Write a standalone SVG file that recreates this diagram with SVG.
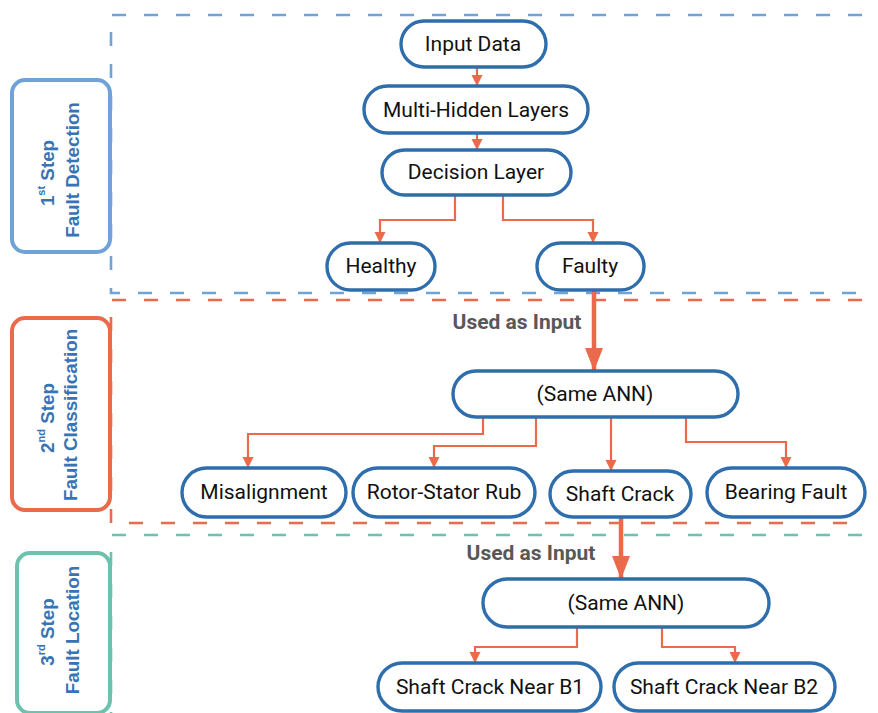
<svg xmlns="http://www.w3.org/2000/svg" width="878" height="713" viewBox="0 0 878 713">
<defs>
<style>
.node rect{fill:#fff;stroke:#2f6eac;stroke-width:3.4}
.node text{font-family:Roboto,"Liberation Sans",sans-serif;font-size:21px;fill:#111;text-anchor:middle;dominant-baseline:central}
.step rect{fill:#fff;stroke-width:4}
.step text{font-family:"Liberation Sans",Arial,sans-serif;font-weight:bold;font-size:18.8px;fill:#3874b5;text-anchor:middle;dominant-baseline:central}
.sup{font-size:11px}
.dash{fill:none;stroke-width:2.6;stroke-dasharray:14 18}
.conn{fill:none;stroke:#ea6a4b;stroke-width:2.2}
.thick{fill:none;stroke:#ea6a4b;stroke-width:4.5}
.lbl{font-family:Roboto,"Liberation Sans",sans-serif;font-weight:bold;font-size:21px;fill:#585858;text-anchor:middle;dominant-baseline:central}
</style>
<marker id="ah" markerUnits="userSpaceOnUse" markerWidth="12" markerHeight="12" viewBox="0 0 12 12" refX="11" refY="6" orient="auto">
<path d="M0,0.5 L11,6 L0,11.5 Z" fill="#ea6a4b"/>
</marker>
<marker id="ahb" markerUnits="userSpaceOnUse" markerWidth="24" markerHeight="20" viewBox="0 0 24 20" refX="23" refY="10" orient="auto">
<path d="M0,1 L23,10 L0,19 Z" fill="#ea6a4b"/>
</marker>
</defs>

<g id="regions">
<path class="dash" stroke="#6fa3d8" d="M862,15 H111 V293 H862"/>
<path class="dash" stroke="#ea6a4b" d="M862,300 H111 V523 H862"/>
<path class="dash" stroke="#6cc2ae" d="M862,535 H111 V713"/>
</g>

<g id="step1" class="step">
<rect x="12" y="80" width="98" height="172" rx="13" stroke="#6fa3d8"/>
<text transform="translate(47,173) rotate(-90)">1<tspan class="sup" dy="-6">st</tspan><tspan dy="6"> Step</tspan></text>
<text transform="translate(72,170) rotate(-90)">Fault Detection</text>
</g>
<g id="step2" class="step">
<rect x="12" y="318" width="98" height="192" rx="13" stroke="#ea6a4b"/>
<text transform="translate(47,418) rotate(-90)">2<tspan class="sup" dy="-6">nd</tspan><tspan dy="6"> Step</tspan></text>
<text transform="translate(70,415) rotate(-90)">Fault Classification</text>
</g>
<g id="step3" class="step">
<rect x="17" y="553" width="93" height="160" rx="13" stroke="#6cc2ae"/>
<text transform="translate(47,632) rotate(-90)">3<tspan class="sup" dy="-6">rd</tspan><tspan dy="6"> Step</tspan></text>
<text transform="translate(72,630) rotate(-90)">Fault Location</text>
</g>

<g id="connectors">
<path class="conn" d="M477,68 V86" marker-end="url(#ah)"/>
<path class="conn" d="M477,133 V150" marker-end="url(#ah)"/>
<path class="conn" d="M455,195 V220 H380 V243" marker-end="url(#ah)"/>
<path class="conn" d="M503,195 V220 H593 V243" marker-end="url(#ah)"/>
<path class="thick" d="M594,290 V371" marker-end="url(#ahb)"/>
<path class="conn" d="M483,417 V434 H248 V468" marker-end="url(#ah)"/>
<path class="conn" d="M536,417 V446 H434 V468" marker-end="url(#ah)"/>
<path class="conn" d="M611,417 V471" marker-end="url(#ah)"/>
<path class="conn" d="M686,417 V442 H786 V468" marker-end="url(#ah)"/>
<path class="thick" d="M621,517 V579" marker-end="url(#ahb)"/>
<path class="conn" d="M577,627 V647 H475 V663" marker-end="url(#ah)"/>
<path class="conn" d="M662,627 V647 H735 V663" marker-end="url(#ah)"/>
<text class="lbl" x="517" y="322">Used as Input</text>
<text class="lbl" x="531" y="553">Used as Input</text>
</g>

<g id="input-data" class="node"><rect x="401" y="21" width="145" height="46" rx="23"/><text x="473" y="44">Input Data</text></g>
<g id="multi-hidden" class="node"><rect x="364" y="86" width="224" height="47" rx="23.5"/><text x="476" y="110">Multi-Hidden Layers</text></g>
<g id="decision" class="node"><rect x="382" y="150" width="189" height="45" rx="22.5"/><text x="476" y="172">Decision Layer</text></g>
<g id="healthy" class="node"><rect x="327" y="243" width="108" height="47" rx="23.5"/><text x="381" y="266">Healthy</text></g>
<g id="faulty" class="node"><rect x="537" y="243" width="107" height="47" rx="23.5"/><text x="590" y="266">Faulty</text></g>
<g id="same-ann-1" class="node"><rect x="453" y="371" width="285" height="46" rx="23"/><text x="595" y="394">(Same ANN)</text></g>
<g id="misalignment" class="node"><rect x="182" y="468" width="164" height="49" rx="24.5"/><text x="264" y="492">Misalignment</text></g>
<g id="rotor-stator" class="node"><rect x="353" y="468" width="182" height="49" rx="24.5"/><text x="444" y="492">Rotor-Stator Rub</text></g>
<g id="shaft-crack" class="node"><rect x="550" y="471" width="141" height="46" rx="23"/><text x="620" y="494">Shaft Crack</text></g>
<g id="bearing-fault" class="node"><rect x="707" y="468" width="158" height="49" rx="24.5"/><text x="786" y="492">Bearing Fault</text></g>
<g id="same-ann-2" class="node"><rect x="483" y="579" width="286" height="48" rx="24"/><text x="626" y="603">(Same ANN)</text></g>
<g id="near-b1" class="node"><rect x="378" y="663" width="223" height="48" rx="24"/><text x="490" y="687">Shaft Crack Near B1</text></g>
<g id="near-b2" class="node"><rect x="614" y="663" width="221" height="48" rx="24"/><text x="724" y="687">Shaft Crack Near B2</text></g>
</svg>
